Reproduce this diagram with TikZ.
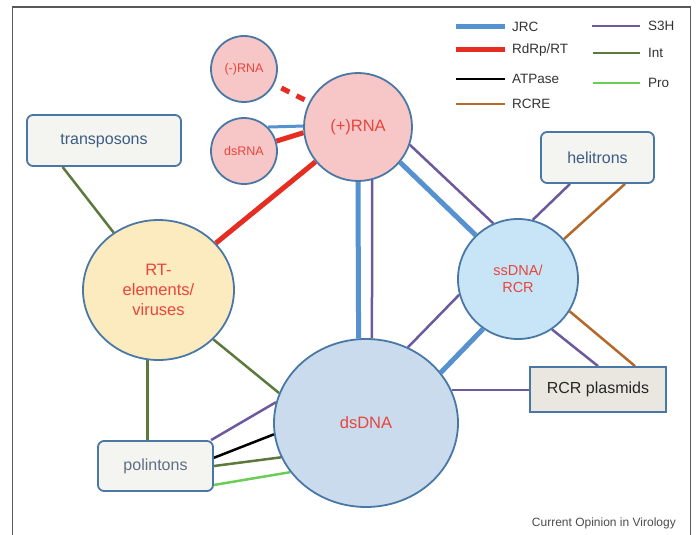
\documentclass[tikz,border=0pt]{standalone}
\usepackage{fontspec}
\setmainfont{Liberation Sans}
\usetikzlibrary{calc,shapes.geometric,backgrounds}
\definecolor{nodeborder}{HTML}{4A78A6}
\definecolor{pinkf}{HTML}{F7C6C6}
\definecolor{yellowf}{HTML}{FDEBC0}
\definecolor{ssf}{HTML}{C7E5F6}
\definecolor{dsf}{HTML}{C9DBED}
\definecolor{boxf}{HTML}{F4F4F1}
\definecolor{plasf}{HTML}{E9E7E0}
\definecolor{boxtext}{HTML}{3C5C84}
\definecolor{poltext}{HTML}{5F6E85}
\definecolor{redtext}{HTML}{E8453C}
\definecolor{jrc}{HTML}{5592CF}
\definecolor{rdrp}{HTML}{E52D22}
\definecolor{sth}{HTML}{6C5A9C}
\definecolor{intc}{HTML}{5B7A3B}
\definecolor{proc}{HTML}{6ACD58}
\definecolor{rcre}{HTML}{B4692A}
\definecolor{legtext}{HTML}{333333}
\begin{document}
\begin{tikzpicture}[x=1pt,y=-1pt,
  circ/.style={circle,draw=nodeborder,line width=1.8pt,inner sep=0pt,align=center,text=redtext},
  ell/.style={ellipse,draw=nodeborder,line width=1.8pt,inner sep=0pt,align=center,text=redtext},
  boxnode/.style={rectangle,rounded corners=6pt,draw=nodeborder,line width=1.8pt,fill=boxf,inner sep=0pt,
     text=boxtext,font=\fontsize{16}{19}\selectfont},
  jrcline/.style={draw=jrc,line width=5pt},
  jrcthin/.style={draw=jrc,line width=3pt},
  rdrpline/.style={draw=rdrp,line width=5pt},
  sthline/.style={draw=sth,line width=2.5pt},
  intline/.style={draw=intc,line width=2.5pt},
  proline/.style={draw=proc,line width=2.5pt},
  atpline/.style={draw=black,line width=2.5pt},
  rcreline/.style={draw=rcre,line width=2.5pt},
  legend/.style={anchor=west,inner sep=0pt,text=legtext,font=\fontsize{13.5}{16}\selectfont}
]
\useasboundingbox (0,0) rectangle (697,535);

% nodes
\node[circ,fill=pinkf,minimum size=66pt,font=\fontsize{12.5}{15}\selectfont] (minusRNA) at (244,69) {(-)RNA};
\node[circ,fill=pinkf,minimum size=66pt,font=\fontsize{12.5}{15}\selectfont] (dsRNA) at (244,151) {dsRNA};
\node[circ,fill=pinkf,minimum size=108pt,font=\fontsize{16.5}{19}\selectfont] (plusRNA) at (358,127) {(+)RNA};
\node[ell,fill=yellowf,minimum width=151pt,minimum height=140pt,font=\fontsize{16.5}{20}\selectfont] (RT) at (158.5,290) {RT-\\elements/\\viruses};
\node[circ,fill=ssf,minimum size=120pt,font=\fontsize{14.5}{17}\selectfont] (ssDNA) at (518,279) {ssDNA/\\RCR};
\node[ell,fill=dsf,minimum width=184pt,minimum height=168pt,font=\fontsize{16.5}{19}\selectfont] (dsDNA) at (366,423) {dsDNA};
\node[boxnode,minimum width=154pt,minimum height=51pt] (transposons) at (104,140.5) {transposons};
\node[boxnode,minimum width=113pt,minimum height=51pt] (helitrons) at (597.5,157.5) {helitrons};
\node[boxnode,minimum width=115pt,minimum height=50pt,text=poltext] (polintons) at (155.5,466) {polintons};
\node[boxnode,rounded corners=0pt,fill=plasf,minimum width=136pt,minimum height=45pt,text=black!85] (plasmids) at (598,389.5) {RCR plasmids};

\begin{scope}[on background layer]
\fill[white] (0,0) rectangle (697,535);
\draw[line width=1.5pt,color=black!65] (12.7,537) -- (12.7,7) -- (690.5,7) -- (690.5,537);
% (-)RNA -- (+)RNA
\draw[rdrp,line width=5pt,dash pattern=on 9pt off 8pt,shorten <=8pt] (minusRNA) -- (plusRNA);
% dsRNA -- (+)RNA
\draw[jrcthin] (dsRNA.45) -- (plusRNA.179);
\draw[rdrpline] (dsRNA.17) -- (plusRNA.-174);
% (+)RNA -- RT
\draw[rdrpline] (plusRNA) -- (RT);
% (+)RNA -- dsDNA
\draw[jrcline] (plusRNA.-90.3) -- (dsDNA.95.7);
\draw[sthline] (plusRNA.-75.3) -- (dsDNA.86.1);
% (+)RNA -- ssDNA
\draw[jrcline] (plusRNA.-40.6) -- (ssDNA.134.3);
\draw[sthline] (plusRNA.-19.8) -- (ssDNA.114);
% ssDNA -- dsDNA
\draw[sthline] (ssDNA.195.4) -- (dsDNA.61.7);
\draw[jrcline] (ssDNA.235.5) -- (dsDNA.34.6);
% dsDNA -- plasmids
\draw[sthline] (dsDNA.21.4) -- (dsDNA.21.4 -| plasmids.west);
% ssDNA -- helitrons
\draw[sthline] (ssDNA.76.7) -- ($(helitrons.south)+(-27.5,0)$);
\draw[rcreline] (ssDNA.41.6) -- ($(helitrons.south)+(27.5,0)$);
% ssDNA -- plasmids
\draw[sthline] (ssDNA.-56.3) -- (plasmids.north);
\draw[rcreline] (ssDNA.-32.4) -- ($(plasmids.north)+(37,0)$);
% transposons -- RT
\draw[intline] ($(transposons.south west)!0.234!(transposons.south east)$) -- (RT.128);
% RT -- polintons
\draw[intline] (RT.-99.5) -- (RT.-99.5 |- polintons.north);
% RT -- dsDNA
\draw[intline] (RT.-42.5) -- (dsDNA.161.2);
% polintons -- dsDNA
\draw[sthline] (polintons.25.5) -- (dsDNA.167.3);
\draw[atpline] (polintons.8.9) -- (dsDNA.187.5);
\draw[intline] (polintons.east) -- (dsDNA.202);
\draw[proline] (polintons.-18.3) -- (dsDNA.213.7);
\end{scope}

% legend
\node[legend] (lJRC) at (512,27) {JRC};
\node[legend] (lRdRp) at (512,50) {RdRp/RT};
\node[legend] (lATP) at (512,79) {ATPase};
\node[legend] (lRCRE) at (512,104) {RCRE};
\node[legend] (lS3H) at (648,26) {S3H};
\node[legend] (lInt) at (648,53) {Int};
\node[legend] (lPro) at (648,83) {Pro};
\draw[jrcline] (456,27) -- (505,27);
\draw[rdrpline] (456,50) -- (505,50);
\draw[atpline] (456,79) -- (505,79);
\draw[rcreline] (456,104) -- (505,104);
\draw[sthline] (592,26) -- (640,26);
\draw[intline] (593,53) -- (640,53);
\draw[proline] (593,83) -- (640,83);

\node[anchor=east,inner sep=0pt,text=black!70,font=\fontsize{12}{14}\selectfont] (credit) at (676,523) {Current Opinion in Virology};
\end{tikzpicture}
\end{document}
